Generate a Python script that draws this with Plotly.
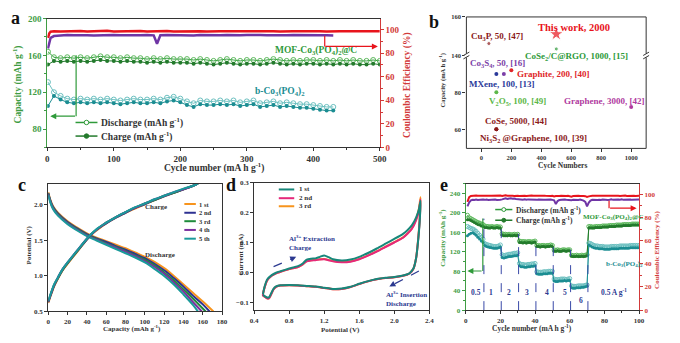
import plotly.graph_objects as go

# ---------------- (a) long-term cycling ----------------
cyc_mof_a = [1] + list(range(10, 501, 10))
mof_dis_a = [164, 158, 157, 158, 157, 158, 157, 158, 159, 158,
             158, 157, 158, 157, 157, 156, 157, 156, 157, 156,
             156, 156, 155, 156, 155, 154, 155, 156, 155, 154,
             155, 155, 154, 155, 156, 155, 154, 155, 154, 155,
             155, 154, 155, 154, 155, 154, 155, 154, 154, 155,
             154]
mof_chg_a = [150, 154, 153, 154, 153, 154, 153, 154, 155, 154,
             154, 153, 154, 153, 153, 152, 153, 152, 153, 152,
             152, 152, 151, 152, 151, 150, 151, 152, 151, 150,
             151, 151, 150, 151, 152, 151, 150, 151, 150, 151,
             151, 150, 151, 150, 151, 150, 151, 150, 150, 151,
             150]
cyc_bco_a = [1] + list(range(10, 431, 10))
bco_dis_a = [131, 120, 116, 113, 112, 113, 112, 113, 112, 113,
             112, 111, 112, 113, 112, 112, 113, 112, 114, 115,
             113, 110, 108, 111, 110, 110, 111, 110, 111, 109,
             110, 111, 108, 109, 110, 108, 109, 108, 107, 107,
             106, 105, 104, 104]
bco_chg_a = [105, 116, 112, 109, 108, 109, 108, 109, 108, 109,
             108, 107, 108, 109, 108, 108, 109, 108, 110, 111,
             109, 106, 104, 107, 106, 106, 107, 106, 107, 105,
             106, 107, 104, 105, 106, 104, 105, 104, 103, 103,
             102, 101, 100, 100]
ce_mof_cyc_a = [1, 3, 5] + list(range(10, 501, 10))
ce_mof_a = [93.0, 96.8, 98.2,
            98.6, 98.4, 98.7, 98.5, 98.8, 98.4, 98.6, 98.5, 98.9, 98.4,
            98.6, 98.7, 98.5, 98.8, 98.4, 98.6, 98.5, 98.7, 98.4, 98.6,
            98.8, 98.5, 98.6, 98.4, 98.7, 98.5, 98.6, 98.8, 98.4, 98.6,
            98.5, 98.7, 98.5, 98.6, 98.4, 98.7, 98.5, 98.6, 98.8, 98.5,
            98.6, 98.4, 98.7, 98.5, 98.6, 98.5, 98.7, 98.6, 98.5, 98.6]
ce_bco_cyc_a = [1, 3, 5] + list(range(10, 161, 10)) + [165, 170] + list(range(180, 431, 10))
ce_bco_a = [84.0, 90.0, 93.0, 94.5,
            95.0, 95.3, 95.1, 95.4, 95.2, 95.0, 95.3, 95.1, 95.4, 95.2, 95.0,
            95.3, 95.2, 95.4, 95.1, 88.0, 95.2,
            95.3, 95.1, 95.4, 95.2, 95.0, 95.3, 95.1, 95.4, 95.2, 95.3, 95.0,
            95.2, 95.4, 95.1, 95.3, 95.2, 95.0, 95.3, 95.1, 95.4, 95.2, 95.0,
            95.3, 95.1, 95.2, 95.0]

# ---------------- (b) comparison with reported anodes ----------------
hi_names = ["This work, 2000", "Cu<sub>3</sub>P, 50, [47]", "CoSe<sub>2</sub>/C@RGO, 1000, [15]"]
hi_cycles = [500, 50, 500]
hi_caps = [151.1, 146.2, 143.4]
hi_colors = ["#e8141c", "#8b1a1a", "#2e9a3a"]
hi_symbols = ["star", "circle", "circle"]
lo_names = ["Co<sub>3</sub>S<sub>4</sub>, 50, [16]", "Graphite, 200, [40]", "MXene, 100, [13]",
            "V<sub>2</sub>O<sub>5</sub>, 100, [49]", "Graphene, 3000, [42]", "CoSe, 5000, [44]",
            "Ni<sub>3</sub>S<sub>2</sub> @Graphene, 100, [39]"]
lo_cycles = [150, 200, 100, 100, 1000, 100, 100]
lo_caps = [90, 92, 90, 80, 72, 60, 60]
lo_colors = ["#7b3fa8", "#e0262a", "#2b3a9a", "#5db84a", "#b03aa0", "#8b1a1a", "#8b1a1a"]

# ---------------- (c) charge/discharge profiles ----------------
cycle_names = ["1 st", "2 nd", "3 rd", "4 th", "5 th"]
cycle_colors = ["#f7941d", "#2e3192", "#1e8b3a", "#7b2f9e", "#1a9a9a"]
cap_chg = [0, 3, 6, 10, 15, 20, 30, 43, 50, 60, 70, 80, 90, 100, 110, 120, 130, 140, 150, 155]
chg_v = [
    [0.62, 0.74, 0.85, 0.96, 1.08, 1.17, 1.34, 1.56, 1.64, 1.74, 1.82, 1.89, 1.95, 2.01, 2.07, 2.12, 2.17, 2.22, 2.27, 2.30],
    [0.63, 0.75, 0.86, 0.97, 1.09, 1.18, 1.35, 1.56, 1.65, 1.74, 1.82, 1.89, 1.96, 2.01, 2.07, 2.12, 2.17, 2.22, 2.27, 2.30],
    [0.64, 0.76, 0.87, 0.97, 1.09, 1.18, 1.35, 1.57, 1.65, 1.75, 1.83, 1.90, 1.96, 2.02, 2.07, 2.13, 2.17, 2.22, 2.27, 2.30],
    [0.64, 0.76, 0.87, 0.98, 1.10, 1.19, 1.36, 1.57, 1.65, 1.75, 1.83, 1.90, 1.96, 2.02, 2.08, 2.13, 2.18, 2.22, 2.27, 2.30],
    [0.65, 0.77, 0.88, 0.98, 1.10, 1.19, 1.36, 1.57, 1.66, 1.75, 1.83, 1.90, 1.97, 2.02, 2.08, 2.13, 2.18, 2.23, 2.27, 2.30],
]
dis_cap = [
    [0, 2, 5, 10, 20, 30, 40, 50, 60, 70, 80, 90, 100, 110, 120, 130, 140, 150, 160, 171],
    [0, 2, 5, 10, 20, 30, 40, 50, 60, 70, 80, 90, 100, 110, 120, 130, 140, 150, 160, 167],
    [0, 2, 5, 10, 20, 30, 40, 50, 60, 70, 80, 90, 100, 110, 120, 130, 140, 150, 163],
    [0, 2, 5, 10, 20, 30, 40, 50, 60, 70, 80, 90, 100, 110, 120, 130, 140, 150, 159],
    [0, 2, 5, 10, 20, 30, 40, 50, 60, 70, 80, 90, 100, 110, 120, 130, 140, 150, 155],
]
dis_v = [
    [2.18, 2.08, 1.98, 1.89, 1.77, 1.68, 1.60, 1.54, 1.49, 1.44, 1.39, 1.33, 1.27, 1.20, 1.11, 1.00, 0.88, 0.76, 0.64, 0.50],
    [2.17, 2.07, 1.97, 1.88, 1.76, 1.67, 1.59, 1.53, 1.48, 1.42, 1.37, 1.31, 1.25, 1.17, 1.08, 0.97, 0.85, 0.72, 0.60, 0.50],
    [2.16, 2.06, 1.96, 1.87, 1.75, 1.66, 1.58, 1.52, 1.46, 1.41, 1.35, 1.29, 1.23, 1.15, 1.05, 0.94, 0.81, 0.68, 0.50],
    [2.15, 2.05, 1.95, 1.86, 1.74, 1.65, 1.57, 1.51, 1.45, 1.40, 1.34, 1.28, 1.21, 1.13, 1.03, 0.91, 0.78, 0.63, 0.50],
    [2.14, 2.04, 1.94, 1.85, 1.73, 1.64, 1.56, 1.50, 1.44, 1.38, 1.32, 1.26, 1.19, 1.10, 1.00, 0.88, 0.74, 0.59, 0.50],
]

# ---------------- (d) cyclic voltammetry ----------------
cv_names = ["1 st", "2 nd", "3 rd"]
cv_colors = ["#17877a", "#e5287a", "#f7941d"]
e_fwd = [0.50, 0.52, 0.55, 0.60, 0.65, 0.70, 0.80, 0.90, 0.95, 1.00, 1.05, 1.10, 1.15, 1.20, 1.25,
         1.30, 1.40, 1.50, 1.60, 1.70, 1.80, 1.90, 2.00, 2.10, 2.15, 2.20, 2.25, 2.28, 2.30]
e_rev = [2.29, 2.27, 2.25, 2.22, 2.18, 2.15, 2.10, 2.00, 1.90, 1.80, 1.70, 1.60, 1.50, 1.40,
         1.30, 1.20, 1.10, 1.00, 0.90, 0.80, 0.70, 0.65, 0.62, 0.60, 0.57, 0.55, 0.52, 0.50]
i_fwd = [
    [-0.072, -0.045, -0.022, -0.008, 0.000, 0.005, 0.014, 0.022, 0.030, 0.044, 0.047, 0.048, 0.053, 0.058, 0.052,
     0.045, 0.041, 0.044, 0.053, 0.066, 0.081, 0.097, 0.113, 0.130, 0.142, 0.158, 0.185, 0.210, 0.240],
    [-0.076, -0.048, -0.025, -0.010, -0.002, 0.003, 0.012, 0.019, 0.027, 0.038, 0.041, 0.042, 0.044, 0.045, 0.042,
     0.038, 0.035, 0.037, 0.045, 0.057, 0.071, 0.086, 0.101, 0.117, 0.130, 0.146, 0.176, 0.205, 0.245],
    [-0.076, -0.048, -0.025, -0.010, -0.002, 0.003, 0.012, 0.019, 0.027, 0.039, 0.042, 0.043, 0.045, 0.046, 0.043,
     0.039, 0.036, 0.038, 0.046, 0.058, 0.072, 0.087, 0.102, 0.118, 0.131, 0.148, 0.180, 0.212, 0.252],
]
i_rev = [
    [0.170, 0.100, 0.050, 0.015, 0.000, -0.005, -0.009, -0.014, -0.017, -0.021, -0.028, -0.037, -0.047, -0.053,
     -0.054, -0.050, -0.046, -0.044, -0.042, -0.041, -0.042, -0.046, -0.054, -0.065, -0.082, -0.083, -0.078, -0.074],
    [0.175, 0.102, 0.050, 0.014, -0.001, -0.006, -0.010, -0.015, -0.018, -0.022, -0.029, -0.038, -0.048, -0.054,
     -0.055, -0.051, -0.047, -0.045, -0.043, -0.042, -0.043, -0.047, -0.056, -0.068, -0.085, -0.086, -0.080, -0.076],
    [0.180, 0.104, 0.051, 0.014, -0.001, -0.006, -0.010, -0.015, -0.018, -0.022, -0.029, -0.038, -0.048, -0.054,
     -0.055, -0.051, -0.047, -0.045, -0.043, -0.042, -0.043, -0.047, -0.056, -0.068, -0.085, -0.086, -0.080, -0.076],
]

# ---------------- (e) rate capability ----------------
cyc_e = list(range(1, 101))
mof_dis_e = [195, 190, 188, 186, 184, 182, 180, 179, 177, 176,
             173, 172, 172, 171, 172, 171, 171, 172, 171, 171,
             157, 156, 156, 155, 156, 155, 155, 156, 155, 156,
             142, 141, 141, 141, 140, 141, 141, 140, 141, 142,
             133, 133, 132, 133, 133, 132, 133, 133, 134, 133,
             124, 123, 124, 123, 123, 124, 124, 123, 124, 124,
             113, 112, 112, 113, 112, 112, 113, 112, 113, 114,
             172, 172, 171, 171, 172, 172, 172, 172, 173, 173,
             173, 173, 174, 174, 174, 174, 175, 175, 175, 175,
             176, 176, 176, 176, 176, 177, 177, 177, 177, 177]
mof_chg_e = [186, 186, 184, 182, 180, 178, 176, 175, 173, 172,
             170, 170, 169, 169, 170, 169, 169, 170, 169, 169,
             154, 153, 153, 153, 154, 153, 153, 154, 153, 154,
             139, 139, 138, 139, 138, 139, 139, 138, 139, 140,
             131, 131, 130, 131, 131, 130, 131, 131, 132, 131,
             121, 121, 122, 121, 121, 122, 122, 121, 122, 122,
             111, 110, 110, 111, 110, 110, 111, 110, 111, 112,
             169, 169, 169, 169, 170, 170, 170, 170, 171, 171,
             171, 171, 172, 172, 172, 172, 173, 173, 173, 173,
             174, 174, 174, 174, 174, 175, 175, 175, 175, 175]
bco_dis_e = [172, 170, 168, 167, 165, 162, 158, 154, 150, 146,
             137, 135, 134, 133, 132, 131, 131, 131, 132, 134,
             114, 112, 113, 114, 115, 115, 116, 117, 117, 118,
             96, 94, 94, 93, 93, 94, 94, 95, 95, 96,
             79, 78, 78, 78, 79, 79, 79, 80, 80, 80,
             64, 63, 63, 63, 64, 64, 64, 63, 64, 65,
             50, 49, 49, 49, 50, 50, 50, 50, 51, 52,
             138, 137, 135, 133, 132, 132, 131, 131, 131, 130,
             130, 130, 130, 131, 131, 131, 131, 131, 132, 132,
             132, 132, 132, 132, 133, 133, 133, 133, 133, 133]
bco_chg_e = [153, 156, 158, 159, 157, 154, 150, 146, 142, 139,
             133, 131, 130, 129, 128, 127, 127, 127, 128, 130,
             108, 107, 108, 109, 110, 110, 111, 112, 112, 113,
             91, 89, 89, 88, 88, 89, 89, 90, 90, 91,
             75, 74, 74, 74, 75, 75, 75, 76, 76, 76,
             60, 59, 59, 60, 60, 60, 61, 60, 61, 61,
             46, 45, 45, 46, 46, 46, 47, 47, 48, 49,
             134, 132, 130, 128, 127, 127, 126, 126, 126, 125,
             125, 125, 125, 126, 126, 126, 126, 126, 127, 127,
             127, 127, 127, 127, 128, 128, 128, 128, 128, 128]
ce_mof_e = [93.5, 97.5, 98.6, 98.9, 98.7, 99.0, 98.8, 98.6, 98.9, 98.7,
            98.8, 98.6, 98.9, 98.7, 98.8, 98.9, 98.6, 98.8, 98.7, 98.9,
            98.5, 98.8, 99.1, 98.7, 98.9, 99.2, 98.8, 98.6, 98.9, 98.7,
            98.6, 98.8, 98.9, 98.7, 98.5, 98.8, 98.6, 98.9, 98.7, 98.8,
            98.4, 98.7, 98.9, 98.6, 98.8, 98.7, 98.5, 98.8, 98.6, 98.7,
            98.2, 98.5, 98.8, 98.6, 98.7, 98.5, 98.8, 98.6, 98.7, 98.5,
            98.0, 98.5, 98.7, 98.6, 98.8, 98.5, 98.7, 98.6, 98.4, 97.8,
            98.2, 98.6, 98.8, 98.7, 98.9, 98.6, 98.8, 98.7, 98.9, 98.6,
            98.8, 98.7, 98.9, 98.6, 98.8, 98.7, 98.9, 98.8, 98.6, 98.8,
            98.7, 98.9, 98.6, 98.8, 98.7, 98.9, 98.8, 98.6, 98.8, 98.7]
ce_bco_e = [89.5, 93.0, 94.8, 95.3, 95.0, 95.4, 95.1, 95.3, 95.0, 95.4,
            95.2, 95.5, 95.1, 95.3, 95.6, 95.2, 95.4, 95.1, 95.5, 95.3,
            95.6, 96.2, 96.5, 96.0, 96.3, 96.6, 96.1, 96.4, 96.0, 95.8,
            95.5, 95.8, 95.4, 95.7, 95.3, 95.6, 95.4, 95.8, 95.5, 95.3,
            95.2, 95.5, 95.3, 95.6, 95.2, 95.4, 95.6, 95.3, 95.5, 95.2,
            94.8, 91.5, 94.2, 95.0, 95.3, 95.1, 95.4, 95.2, 95.0, 95.3,
            94.8, 95.2, 95.0, 95.3, 95.1, 95.4, 95.0, 94.5, 93.5, 89.5,
            92.8, 94.5, 95.2, 95.0, 95.4, 95.1, 95.3, 95.0, 95.4, 95.2,
            95.5, 95.1, 95.3, 95.6, 95.2, 95.4, 95.1, 95.5, 95.3, 95.6,
            95.2, 95.4, 95.6, 95.3, 95.5, 95.2, 95.4, 95.6, 95.3, 95.5]
rate_labels = ["0.5", "1", "2", "3", "4", "5", "6", "0.5 A g<sup>-1</sup>"]
rate_label_cycles = [5.7, 14.7, 25, 35.4, 46.8, 57.1, 66.6, 85.6]
rate_label_caps = [37, 37, 37, 37, 37, 37, 20, 38]
rate_switch_cycles = [10.5, 20.5, 30.5, 40.5, 50.5, 60.5, 70.5]
rate_switch_tops = [188, 172, 157, 142, 133, 124, 113]

# ---------------- styling ----------------
W, H = 680, 343
FONT = "Liberation Serif"
DARK = "#333333"
GREEN = "#2f9a3a"
GREEN_D = "#237a2c"
GREEN_AX = "#3f9c44"
TEAL = "#1b8d92"
TEAL_L = "#6cc0c0"
RED = "#e8141c"
RED_AX = "#d23a3a"
PURPLE = "#6f35a5"
NAVY = "#2b3990"


def X(px):
    return px / W


def Y(py):
    return 1 - py / H


def f(size, color=DARK):
    return dict(family=FONT, size=size, color=color, weight="bold")


fig = go.Figure()

# (a)
fig.add_trace(go.Scatter(x=cyc_mof_a, y=mof_dis_a, mode="lines+markers", xaxis="x", yaxis="y",
                         line=dict(color=GREEN, width=1),
                         marker=dict(symbol="circle-open", size=5, color="#5cb85c", line=dict(width=1))))
fig.add_trace(go.Scatter(x=cyc_mof_a, y=mof_chg_a, mode="lines+markers", xaxis="x", yaxis="y",
                         line=dict(color=GREEN_D, width=1), marker=dict(size=4, color=GREEN_D)))
fig.add_trace(go.Scatter(x=cyc_bco_a, y=bco_dis_a, mode="lines+markers", xaxis="x", yaxis="y",
                         line=dict(color=TEAL_L, width=1),
                         marker=dict(symbol="circle-open", size=5, color=TEAL_L, line=dict(width=1))))
fig.add_trace(go.Scatter(x=cyc_bco_a, y=bco_chg_a, mode="lines+markers", xaxis="x", yaxis="y",
                         line=dict(color=TEAL, width=1), marker=dict(size=4, color=TEAL)))
fig.add_trace(go.Scatter(x=ce_bco_cyc_a, y=ce_bco_a, mode="lines", xaxis="x", yaxis="y2",
                         line=dict(color=PURPLE, width=2.5)))
fig.add_trace(go.Scatter(x=ce_mof_cyc_a, y=ce_mof_a, mode="lines", xaxis="x", yaxis="y2",
                         line=dict(color=RED, width=2.5)))

# (b)
fig.add_trace(go.Scatter(x=hi_cycles, y=hi_caps, mode="markers", xaxis="x2", yaxis="y4",
                         marker=dict(color=hi_colors, symbol=hi_symbols, size=[11, 4, 4])))
fig.add_trace(go.Scatter(x=lo_cycles, y=lo_caps, mode="markers", xaxis="x2", yaxis="y3",
                         marker=dict(color=lo_colors, size=4)))

# (c)
for k in range(5):
    fig.add_trace(go.Scatter(x=dis_cap[k], y=dis_v[k], mode="lines", xaxis="x3", yaxis="y5",
                             line=dict(color=cycle_colors[k], width=2, shape="spline")))
for k in range(5):
    fig.add_trace(go.Scatter(x=cap_chg, y=chg_v[k], mode="lines", xaxis="x3", yaxis="y5",
                             line=dict(color=cycle_colors[k], width=2, shape="spline")))

# (d)
for k in [2, 1, 0]:
    fig.add_trace(go.Scatter(x=e_fwd + e_rev, y=i_fwd[k] + i_rev[k], mode="lines", xaxis="x4", yaxis="y6",
                             line=dict(color=cv_colors[k], width=2, shape="spline", smoothing=0.6)))

# (e)
fig.add_trace(go.Scatter(x=cyc_e, y=mof_dis_e, mode="lines+markers", xaxis="x5", yaxis="y7",
                         line=dict(color=GREEN, width=1),
                         marker=dict(symbol="circle-open", size=4, color="#5cb85c", line=dict(width=1))))
fig.add_trace(go.Scatter(x=cyc_e, y=mof_chg_e, mode="lines+markers", xaxis="x5", yaxis="y7",
                         line=dict(color=GREEN_D, width=1), marker=dict(size=3, color=GREEN_D)))
fig.add_trace(go.Scatter(x=cyc_e, y=bco_dis_e, mode="lines+markers", xaxis="x5", yaxis="y7",
                         line=dict(color=TEAL_L, width=1),
                         marker=dict(symbol="circle-open", size=4, color=TEAL_L, line=dict(width=1))))
fig.add_trace(go.Scatter(x=cyc_e, y=bco_chg_e, mode="lines+markers", xaxis="x5", yaxis="y7",
                         line=dict(color=TEAL, width=1), marker=dict(size=3, color=TEAL)))
fig.add_trace(go.Scatter(x=cyc_e, y=ce_bco_e, mode="lines", xaxis="x5", yaxis="y8",
                         line=dict(color=PURPLE, width=2)))
fig.add_trace(go.Scatter(x=cyc_e, y=ce_mof_e, mode="lines", xaxis="x5", yaxis="y8",
                         line=dict(color=RED, width=2)))


def axis(x0=None, x1=None, y0=None, y1=None, **kw):
    d = dict(showgrid=False, zeroline=False, ticks="outside", ticklen=3, tickwidth=1,
             showline=True, linewidth=1, linecolor=DARK, tickcolor=DARK, tickfont=f(7))
    if x0 is not None:
        d["domain"] = [X(x0), X(x1)]
    if y0 is not None:
        d["domain"] = [Y(y1), Y(y0)]
    d.update(kw)
    return d


layout = dict(
    width=W, height=H, margin=dict(l=0, r=0, t=0, b=0),
    paper_bgcolor="white", plot_bgcolor="white", showlegend=False,
    font=f(8),
    # (a)
    xaxis=axis(44, 382, anchor="y", range=[0, 500], tick0=0, dtick=100, mirror=True, tickfont=f(9),
               minor=dict(ticks="outside", ticklen=2, dtick=50, tickcolor=DARK)),
    yaxis=axis(y0=14, y1=146.7, anchor="x", range=[60, 200], tick0=80, dtick=40,
               linecolor=GREEN_AX, tickcolor=GREEN_AX, tickfont=f(9, GREEN_AX),
               minor=dict(ticks="outside", ticklen=2, dtick=20, tickcolor=GREEN_AX)),
    yaxis2=axis(y0=14, y1=146.7, anchor="x", overlaying="y", side="right", range=[0, 109.3], tick0=0, dtick=20,
                linecolor=RED_AX, tickcolor=RED_AX, tickfont=f(9, RED_AX),
                minor=dict(ticks="outside", ticklen=2, dtick=10, tickcolor=RED_AX)),
    # (b)
    xaxis2=axis(470, 652.7, anchor="y3", range=[-100, 1100], tick0=0, dtick=200, showline=False,
                tickfont=f(6.5)),
    yaxis3=axis(y0=52, y1=147.7, anchor="x2", range=[49.6, 100], tickvals=[60, 80], showline=False,
                tickfont=f(6.5)),
    yaxis4=axis(y0=12.3, y1=52, anchor="x2", range=[140, 160], tickvals=[140, 160], showline=False,
                tickfont=f(6.5)),
    # (c)
    xaxis3=axis(45, 221.7, anchor="y5", range=[0, 180], tick0=0, dtick=20, mirror=True),
    yaxis5=axis(y0=184, y1=315.7, anchor="x3", range=[0.5, 2.3], tick0=0.5, dtick=0.5, tickformat=".1f",
                mirror=True),
    # (d)
    xaxis4=axis(254.3, 432.3, anchor="y6", range=[0.4, 2.4], tick0=0.4, dtick=0.4, tickformat=".1f", mirror=True),
    yaxis6=axis(y0=183.3, y1=314.3, anchor="x4", range=[-0.125, 0.3], tick0=-0.1, dtick=0.1, tickformat=".1f",
                mirror=True),
    # (e)
    xaxis5=axis(469.3, 645.5, anchor="y7", range=[0, 100], tick0=0, dtick=20, mirror=True,
                minor=dict(ticks="outside", ticklen=2, dtick=10, tickcolor=DARK)),
    yaxis7=axis(y0=184, y1=314.3, anchor="x5", range=[0, 260], tick0=0, dtick=40,
                linecolor=GREEN_AX, tickcolor=GREEN_AX, tickfont=f(7, GREEN_AX),
                minor=dict(ticks="outside", ticklen=2, dtick=20, tickcolor=GREEN_AX)),
    yaxis8=axis(y0=184, y1=314.3, anchor="x5", overlaying="y7", side="right", range=[0, 109.2], tick0=0, dtick=20,
                linecolor=RED_AX, tickcolor=RED_AX, tickfont=f(7, RED_AX),
                minor=dict(ticks="outside", ticklen=2, dtick=10, tickcolor=RED_AX)),
)
fig.update_layout(**layout)

shapes = []
annotations = []


def text(s, px, py, size, color=DARK, xanchor="left", angle=0):
    annotations.append(dict(text=s, x=X(px), y=Y(py), xref="paper", yref="paper", showarrow=False,
                            xanchor=xanchor, yanchor="middle", textangle=angle, font=f(size, color)))


def line(x0, y0, x1, y1, color, width=1, dash="solid"):
    shapes.append(dict(type="line", xref="paper", yref="paper", x0=X(x0), y0=Y(y0), x1=X(x1), y1=Y(y1),
                       line=dict(color=color, width=width, dash=dash)))


def arrow(tail, tip, color, width=1):
    annotations.append(dict(text="", x=X(tip[0]), y=Y(tip[1]), xref="paper", yref="paper", showarrow=True,
                            ax=tail[0] - tip[0], ay=tail[1] - tip[1], axref="pixel", ayref="pixel",
                            arrowhead=2, arrowsize=1, arrowwidth=width, arrowcolor=color))


def glyph(x0, x1, y, color, filled, r=2.3):
    line(x0, y, x1, y, color, 1.5)
    cx = (x0 + x1) / 2
    shapes.append(dict(type="circle", xref="paper", yref="paper", x0=X(cx - r), x1=X(cx + r),
                       y0=Y(y + r), y1=Y(y - r), line=dict(color=color, width=1),
                       fillcolor=color if filled else "white"))


# panel letters
for letter, px, py in [("a", 12, 13), ("b", 437, 17), ("c", 18, 185), ("d", 231, 185), ("e", 447, 185)]:
    text(letter, px, py, 18, "#111111", xanchor="center")

# (a) titles, labels, legend, arrows
text("Capacity (mAh g<sup>-1</sup>)", 14, 82, 9.5, GREEN_AX, "center", -90)
text("Coulombic Efficiency (%)", 410, 82, 9.5, RED_AX, "center", -90)
text("Cycle number (mA h g<sup>-1</sup>)", 213, 167, 9.5, DARK, "center")
text("MOF-Co<sub>3</sub>(PO<sub>4</sub>)<sub>2</sub>@C", 273, 47, 9.5, GREEN)
text("b-Co<sub>3</sub>(PO<sub>4</sub>)<sub>2</sub>", 253, 89, 9.5, TEAL)
glyph(72.7, 95, 121, GREEN, False)
glyph(72.7, 95, 135, GREEN_D, True)
text("Discharge (mAh g<sup>-1</sup>)", 97, 121, 9.5)
text("Charge (mAh g<sup>-1</sup>)", 97, 135, 9.5)
line(73.3, 51.7, 73.3, 114.5, GREEN, 1.2)
arrow((73.3, 114.5), (47, 114.5), GREEN, 1.2)
line(326, 32, 326, 42.7, RED, 1.2)
arrow((326, 42.7), (380, 42.7), RED, 1.2)

# (b) frame, axis break, titles, labels
shapes.append(dict(type="rect", xref="paper", yref="paper", x0=X(470), x1=X(652.7), y0=Y(147.7), y1=Y(12.3),
                   line=dict(color=DARK, width=1)))
for bx in (470, 652.7):
    shapes.append(dict(type="rect", xref="paper", yref="paper", x0=X(bx - 2), x1=X(bx + 2),
                       y0=Y(54), y1=Y(50), line=dict(width=0), fillcolor="white"))
    line(bx - 3, 52, bx + 3, 48.5, DARK, 1)
    line(bx - 3, 55.5, bx + 3, 52, DARK, 1)
text("Capacity (mA h g<sup>-1</sup>)", 446, 77, 6.5, DARK, "center", -90)
text("Cycle Numbers", 568, 165, 7.5, DARK, "center")
hi_label_pos = [(541, 22.7, 10.5), (473, 32.7, 9), (527.7, 52.7, 9)]
lo_label_pos = [(471.7, 60.7), (519.3, 71.3), (470.5, 81.3), (491, 99.3), (566.7, 99.3), (487.3, 119.3), (481.7, 138)]
for name, color, (px, py, sz) in zip(hi_names, hi_colors, hi_label_pos):
    text(name, px, py, sz, color)
for name, color, (px, py) in zip(lo_names, lo_colors, lo_label_pos):
    text(name, px, py, 9, color)

# (c) titles, legend, labels
text("Potential (V)", 25, 247, 7, DARK, "center", -90)
text("Capacity (mAh g<sup>-1</sup>)", 130, 333, 7, DARK, "center")
text("Charge", 141.7, 208.3, 7)
text("Discharge", 141.7, 257.7, 7)
for k, yy in enumerate([205, 214, 222.7, 231.7, 240.7]):
    line(183.3, yy, 195, yy, cycle_colors[k], 2)
    text(cycle_names[k], 196.5, yy, 6.5)

# (d) titles, legend, annotations
text("Current (mA)", 240, 257, 7, DARK, "center", -90)
text("Potential (V)", 341.7, 335, 7, DARK, "center")
for k, yy in enumerate([190, 199, 207.3]):
    line(279.3, yy, 295, yy, cv_colors[k], 2)
    text(cv_names[k], 297.5, yy, 7)
text("Al<sup>3+</sup> Extraction", 288, 240.5, 7, NAVY)
text("Charge", 288, 250.5, 7, NAVY)
text("Al<sup>3+</sup> Insertion", 386.7, 298, 7, NAVY)
text("Discharge", 386.7, 307.5, 7, NAVY)
line(274, 269.5, 293, 261.2, NAVY, 1.2, "dash")
arrow((292, 261.6), (297, 259.4), NAVY, 1.2)
line(421.7, 274, 395, 288.3, NAVY, 1.2, "dash")
arrow((396.2, 287.6), (391.7, 290), NAVY, 1.2)

# (e) titles, legend, annotations
text("Capacity (mAh g<sup>-1</sup>)", 445, 240, 7, GREEN_AX, "center", -90)
text("Coulombic Efficiency (%)", 663, 252, 7, RED_AX, "center", -90)
text("Cycle number (mA h g<sup>-1</sup>)", 536.7, 333, 7.5, DARK, "center")
glyph(499.3, 516.7, 210.7, GREEN, False, 2)
glyph(499.3, 516.7, 221.7, GREEN_D, True, 2)
text("Discharge (mAh g<sup>-1</sup>)", 518.3, 210.7, 7.5)
text("Charge (mAh g<sup>-1</sup>)", 518.3, 221.7, 7.5)
text("MOF-Co<sub>3</sub>(PO<sub>4</sub>)<sub>2</sub>@C", 586, 218.3, 7, GREEN)
text("b-Co<sub>3</sub>(PO<sub>4</sub>)<sub>2</sub>", 610, 266.7, 7, TEAL)
line(486.7, 220, 486.7, 274, GREEN, 1.2)
arrow((486.7, 274), (471, 274), GREEN, 1.2)
line(615, 201.7, 615, 209.3, RED, 1.2)
arrow((615, 209.3), (643, 209.3), RED, 1.2)
for cx, top in zip(rate_switch_cycles, rate_switch_tops):
    shapes.append(dict(type="line", xref="x5", yref="y7", x0=cx, x1=cx, y0=0, y1=top,
                       line=dict(color="#3a4aa8", width=1, dash="dash")))
for s, cx, cy in zip(rate_labels, rate_label_cycles, rate_label_caps):
    annotations.append(dict(text=s, x=cx, y=cy, xref="x5", yref="y7", showarrow=False,
                            font=f(7.5, NAVY)))

fig.update_layout(shapes=shapes, annotations=annotations)
fig.write_html("out.html")
